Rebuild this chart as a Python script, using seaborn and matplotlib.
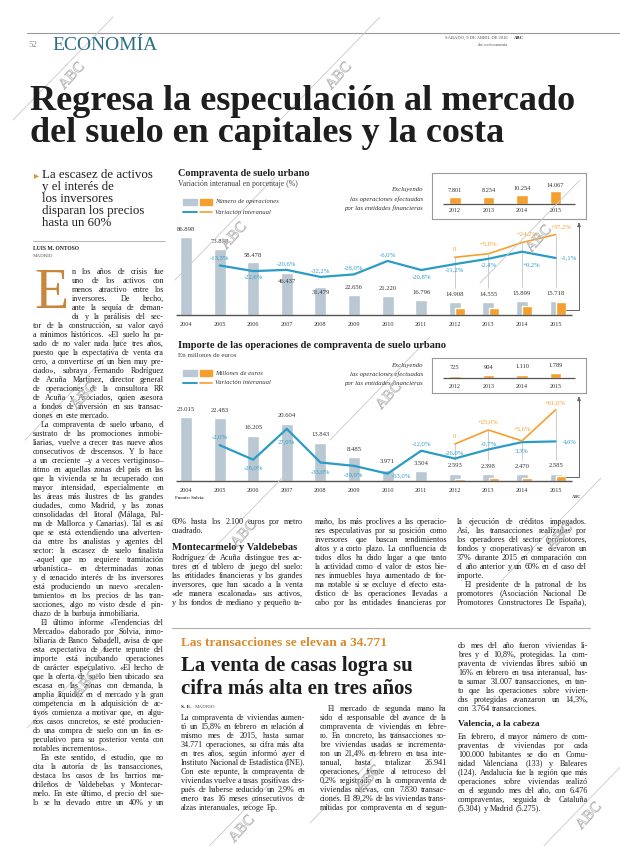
import matplotlib
matplotlib.use("Agg")
import matplotlib.pyplot as plt
import matplotlib.patheffects as pe
import seaborn as sns
import numpy as np
from matplotlib.lines import Line2D
from matplotlib.patches import Rectangle, FancyArrowPatch

# Datos
years = ['2004', '2005', '2006', '2007', '2008', '2009', '2010', '2011', '2012', '2013', '2014', '2015']
excl_years = ['2012', '2013', '2014', '2015']

ops = [86898, 73858, 58478, 46437, 31479, 22656, 21220, 16796, 14908, 14555, 15899, 15718]
ops_var = [np.nan, -13.3, -22.6, -20.6, -32.2, -28.0, -6.0, -20.8, -11.2, -2.4, 9.2, -1.1]
ops_excl = [7801, 8254, 10254, 14067]
ops_excl_var = [0, 5.8, 24.2, 37.2]

imp = [23015, 22483, 16205, 20604, 13843, 8485, 3971, 3504, 2593, 2398, 2470, 2585]
imp_var = [np.nan, -2.0, -28.0, 27.0, -33.0, -39.0, -53.0, -12.0, -26.0, -9.7, 3.3, 4.6]
imp_excl = [725, 904, 1110, 1789]
imp_excl_var = [0, 25.0, 5.6, 61.0]

GRIS = '#b9c8d3'
NARANJA = '#f5a02e'
AZUL = '#2a9cc6'
TXT = '#1f1f1f'
TEAL = '#2b6e87'

sns.set_theme(style='white')
plt.rcParams['font.family'] = ['Liberation Serif', 'DejaVu Serif']

W, H = 620, 846
fig = plt.figure(figsize=(W / 100, H / 100), dpi=100)
fig.patch.set_facecolor('white')
R = fig.canvas.get_renderer()


def T(x, y, s, size=7, color=TXT, ha='left', va='center', **kw):
    return fig.text(x / W, 1 - y / H, s, fontsize=size * 0.72, color=color, ha=ha, va=va, **kw)


def fit(x, y, s, width, size=10, **kw):
    t = T(x, y, s, size, **kw)
    w = t.get_window_extent(R).width
    t.set_fontsize(size * 0.72 * width / w)
    return t


def line(xs, ys, color='#999999', lw=0.7):
    fig.add_artist(Line2D([x / W for x in xs], [1 - y / H for y in ys], transform=fig.transFigure, color=color, lw=lw))


def hline(x0, x1, y, color='#999999', lw=0.7):
    line([x0, x1], [y, y], color, lw)


def rect(x0, y0, x1, y1, color):
    fig.add_artist(Rectangle((x0 / W, 1 - y1 / H), (x1 - x0) / W, (y1 - y0) / H, transform=fig.transFigure, color=color))


def axbox(x0, y0, x1, y1):
    return fig.add_axes([x0 / W, 1 - y1 / H, (x1 - x0) / W, (y1 - y0) / H])


def column(x0, x1, y0, lines, step=9.0, size=8.2, indent=8, **kw):
    # texto justificado, palabra por palabra
    for i, ln in enumerate(lines):
        if not ln:
            continue
        y = y0 + i * step + 2.6
        last = ln.endswith('|')
        ln = ln.rstrip('|')
        xa = x0 + (indent if ln.startswith('>') else 0)
        ln = ln.lstrip('>')
        words = ln.split()
        objs = [T(xa, y, w, size, va='baseline', **kw) for w in words]
        ws = [o.get_window_extent(R).width for o in objs]
        avail = x1 - xa
        if last or len(words) == 1:
            gap = size * 0.25
        else:
            gap = (avail - sum(ws)) / (len(words) - 1)
            if gap < 1.4:
                f = (avail - 1.4 * (len(words) - 1)) / sum(ws)
                for o in objs:
                    o.set_fontsize(size * 0.72 * f)
                ws = [w * f for w in ws]
                gap = 1.4
        x = xa
        for o, w in zip(objs, ws):
            o.set_x(x / W)
            x += w + gap


# Cabecera
hline(27, 620, 33, '#9a9a9a', 0.8)
T(28, 45, '52', 9, color='#8a8a8a')
fit(52, 46, 'ECONOMÍA', 105, 22, color=TEAL)
T(508, 38, 'SÁBADO, 9 DE ABRIL DE 2016', 4.6, color='#555555', ha='right')
T(514, 38, 'ABC', 4.8, color='#333333', weight='bold')
T(508, 45, 'abc.es/economia', 4.6, color='#555555', ha='right')

t1 = fit(30, 102, 'Regresa la especulación al mercado', 546, 36, weight='bold', color='#1e1e1e')
T(30, 134, 'del suelo en capitales y la costa', t1.get_fontsize() / 0.72, weight='bold', color='#1e1e1e')

# Columna izquierda
STEP = 9.0
LY0 = 271
T(34, 175, '▸', 10, color='#e0922f', family='DejaVu Sans')
d = fit(42, 175, 'La escasez de activos', 111, 13)
for k, s in enumerate(['y el interés de', 'los inversores', 'disparan los precios', 'hasta un 60%']):
    T(42, 187 + 12 * k, s, d.get_fontsize() / 0.72)
hline(33, 165, 241, '#aaaaaa', 0.6)
T(33, 248, 'LUIS M. ONTOSO', 5.6, weight='bold')
T(33, 256, 'MADRID', 5.0, color='#555555')
cap = 56
T(34, LY0 + 6 * STEP - 5 - 0.216 * cap, 'E', cap, color='#c8873d', va='baseline')

left_top = [
    "n los años de crisis fue",
    "uno de los activos con",
    "menos atractivo entre los",
    "inversores. De hecho,",
    "ante la sequía de deman-",
    "da y la parálisis del sec-",
]
left_rest = [
    "tor de la construcción, su valor cayó",
    "a mínimos históricos. «El suelo ha pa-",
    "sado de no valer nada hace tres años,",
    "puesto que la expectativa de venta era",
    "cero, a convertirse en un bien muy pre-",
    "ciado», subraya Fernando Rodríguez",
    "de Acuña Martínez, director general",
    "de operaciones de la consultora RR",
    "de Acuña y Asociados, quien asesora",
    "a fondos de inversión en sus transac-",
    "ciones en este mercado.|",
    ">La compraventa de suelo urbano, el",
    "sustrato de las promociones inmobi-",
    "liarias, vuelve a crecer tras nueve años",
    "consecutivos de descensos. Y lo hace",
    "a un creciente –y a veces vertiginoso–",
    "ritmo en aquellas zonas del país en las",
    "que la vivienda se ha recuperado con",
    "mayor intensidad, especialmente en",
    "las áreas más ilustres de las grandes",
    "ciudades, como Madrid, y las zonas",
    "consolidadas del litoral (Málaga, Pal-",
    "ma de Mallorca y Canarias). Tal es así",
    "que se está extendiendo una adverten-",
    "cia entre los analistas y agentes del",
    "sector: la escasez de suelo finalista",
    "–aquel que no requiere tramitación",
    "urbanística– en determinadas zonas",
    "y el renacido interés de los inversores",
    "está produciendo un nuevo «recalen-",
    "tamiento» en los precios de las tran-",
    "sacciones, algo no visto desde el pin-",
    "chazo de la burbuja inmobiliaria.|",
    ">El último informe «Tendencias del",
    "Mercado» elaborado por Solvia, inmo-",
    "biliaria de Banco Sabadell, avisa de que",
    "esta expectativa de fuerte repunte del",
    "importe está incubando operaciones",
    "de carácter especulativo. «El hecho de",
    "que la oferta de suelo bien ubicado sea",
    "escasa en las zonas con demanda, la",
    "amplia liquidez en el mercado y la gran",
    "competencia en la adquisición de ac-",
    "tivos comienza a motivar que, en algu-",
    "nos casos concretos, se esté producien-",
    "do una compra de suelo con un fin es-",
    "peculativo para su posterior venta con",
    "notables incrementos».|",
    ">En este sentido, el estudio, que no",
    "cita la autoría de las transacciones,",
    "destaca los casos de los barrios ma-",
    "drileños de Valdebebas y Montecar-",
    "melo. En este último, el precio del sue-",
    "lo se ha elevado entre un 40% y un",
]
column(72, 164, LY0, left_top, STEP)
column(33, 164, LY0 + 6 * STEP, left_rest, STEP)


# Graficos
X0, DX = 186, 33.6


def cat(px):
    return (px - X0) / DX


def miles(v):
    return f'{v:,}'.replace(',', '.')


def pct(v, plus):
    if v == 0:
        return '0'
    s = f'{v:+.1f}%' if plus else f'{v:.1f}%'
    return s.replace('.', ',')


def grafico(top, base, k, zero, kp, vals, var, excl, excl_var, off_val, off_var, off_exc, plus):
    ax = axbox(169, top, 578, base)
    sns.barplot(x=years, y=vals, color=GRIS, saturation=1, width=0.36, errorbar=None, ax=ax, zorder=2)
    ax.bar(np.arange(8, 12) + 0.16, excl, width=0.3, color=NARANJA, zorder=3)
    ymax = (base - top) / k
    ax.set_ylim(0, ymax)
    ax.axis('off')
    ax.hlines(0, cat(176), cat(572), color='#555555', lw=1.0, zorder=5, clip_on=False)
    for i, yr in enumerate(years):
        ax.annotate(yr, (i, 0), xytext=(0, -9 * 0.72), textcoords='offset points',
                    ha='center', va='center', fontsize=6.2 * 0.72, color='#333333')
    for i, v in enumerate(vals):
        ax.annotate(miles(v), (i, v), xytext=(0, -off_val[i] * 0.72), textcoords='offset points',
                    ha='center', va='center', fontsize=6.6 * 0.72, color='#333333', zorder=6)

    ax2 = ax.twinx()
    lo, hi = -(base - zero) / kp, (zero - top) / kp
    pos = np.arange(1, 12)
    # lineas de referencia
    for j in range(4):
        i = 8 + j
        ybot = (zero - (base - vals[i] * k - 14)) / kp
        ax2.vlines(i, ybot, excl_var[j], color='#c4c4c4', lw=0.6, zorder=1)
    sns.lineplot(x=pos, y=var[1:], color=AZUL, lw=1.6, ax=ax2, zorder=4)
    sns.lineplot(x=np.arange(8, 12), y=excl_var, color=NARANJA, lw=1.2, ax=ax2, zorder=4)
    ax2.set_ylim(lo, hi)
    ax2.axis('off')
    for i in pos:
        dx, dy = off_var[i - 1]
        ax2.annotate(pct(var[i], plus), (i, var[i]), xytext=(dx * 0.72, -dy * 0.72), textcoords='offset points',
                     ha='center', va='center', fontsize=6.6 * 0.72, color=AZUL, zorder=6)
    for j, v in enumerate(excl_var):
        dx, dy = off_exc[j]
        ax2.annotate(pct(v, True), (8 + j, v), xytext=(dx * 0.72, -dy * 0.72), textcoords='offset points',
                     ha='center', va='center', fontsize=6.6 * 0.72, color=NARANJA, zorder=6)
    ax.set_xlim(cat(169), cat(578))
    ax2.set_xlim(cat(169), cat(578))


def recuadro(y0, y1, base, k, excl, dv, dy):
    ai = axbox(432, y0, 586, y1)
    sns.barplot(x=excl_years, y=excl, color=NARANJA, saturation=1, width=0.34, errorbar=None, ax=ai)
    ai.set_xlim(cat(432) - 8, cat(586) - 8)
    ai.set_ylim(-(y1 - base) / k, (base - y0) / k)
    ai.hlines(0, cat(443) - 8, cat(575) - 8, color='#555555', lw=0.9)
    ai.set_xticks([])
    ai.set_yticks([])
    ai.set_xlabel('')
    ai.set_ylabel('')
    for sp in ai.spines.values():
        sp.set_color('#9a9a9a')
        sp.set_linewidth(0.8)
    for j, v in enumerate(excl):
        ai.annotate(miles(v), (j, v), xytext=(0, dv * 0.72), textcoords='offset points',
                    ha='center', va='center', fontsize=6.4 * 0.72, color='#333333')
        ai.annotate(excl_years[j], (j, 0), xytext=(0, -dy * 0.72), textcoords='offset points',
                    ha='center', va='center', fontsize=6.0 * 0.72, color='#333333')


def leyenda(y, etiqueta):
    rect(183, y - 3, 197, y + 3, GRIS)
    rect(200, y - 3, 212, y + 3, NARANJA)
    T(215, y, etiqueta, 6.6, style='italic', color='#333333')
    hline(183, 197, y + 10, AZUL, 1.4)
    hline(200, 212, y + 10, NARANJA, 1.2)
    T(215, y + 10, 'Variación interanual', 6.6, style='italic', color='#333333')


def excluyendo(y):
    for k, s in enumerate(['Excluyendo', 'las operaciones efectuadas', 'por las entidades financieras']):
        T(423, y + 9 * k, s, 6.8, style='italic', ha='right', color='#333333')


def flecha(ybar, ybox):
    line([566, 579, 579], [ybar, ybar, ybox + 6], '#666666', 0.7)
    fig.add_artist(FancyArrowPatch((579 / W, 1 - (ybox + 8) / H), (579 / W, 1 - (ybox + 1) / H),
                                   transform=fig.transFigure, arrowstyle='-|>', mutation_scale=5,
                                   color='#666666', lw=0.7))


# Grafico 1
fit(178, 173, 'Compraventa de suelo urbano', 130, 11, weight='bold')
fit(178, 184, 'Variación interanual en porcentaje (%)', 120, 7, color='#444444')
leyenda(202, 'Número de operaciones')
excluyendo(190)
grafico(225, 315, 0.0009, 257.3, 0.61, ops, ops_var, ops_excl, ops_excl_var,
        [-7, -7, -7, 8, 6, -7, -7, -7, -7, -7, -7, -7],
        [(0, -8), (0, 6), (0, -6), (0, -6), (0, -7), (0, -6), (0, 7), (0, 6), (0, 6), (9, 13), (13, 0)],
        [(0, -8), (0, -10), (5, -9), (5, -8)], True)
recuadro(173, 219, 204, 0.0009, ops_excl, 6, 7)
flecha(310, 219)

# Grafico 2
fit(178, 345, 'Importe de las operaciones de compraventa de suelo urbano', 270, 11, weight='bold')
T(178, 355, 'En millones de euros', 7, color='#444444')
leyenda(373, 'Millones de euros')
excluyendo(365)
grafico(400, 481, 0.00278, 444, 0.56, imp, imp_var, imp_excl, imp_excl_var,
        [-8] * 12,
        [(0, -8), (0, 8), (0, 13), (0, 9), (0, 9), (14, 2), (0, -7), (0, -6), (0, -6), (0, 9), (14, 0)],
        [(0, -8), (0, -8), (0, -12), (0, -7)], False)
recuadro(358, 393, 378, 0.00278, imp_excl, 8, 8)
flecha(477, 393)
T(175, 498, 'Fuente: Solvia', 4.6, color='#444444', weight='bold')
T(572, 497, 'ABC', 4.4, color='#444444', weight='bold')

# Columnas bajo los graficos
col2a = [
    "60% hasta los 2.100 euros por metro",
    "cuadrado.|",
]
col2b = [
    "Rodríguez de Acuña distingue tres ac-",
    "tores en el tablero de juego del suelo:",
    "las entidades financieras y los grandes",
    "inversores, que han sacado a la venta",
    "«de manera escalonada» sus activos,",
    "y los fondos de mediano y pequeño ta-",
]
col3 = [
    "maño, los más proclives a las operacio-",
    "nes especulativas por su posición como",
    "inversores que buscan rendimientos",
    "altos y a corto plazo. La confluencia de",
    "todos ellos ha dado lugar a que tanto",
    "la actividad como el valor de estos bie-",
    "nes inmuebles haya aumentado de for-",
    "ma notable si se excluye el efecto esta-",
    "dístico de las operaciones llevadas a",
    "cabo por las entidades financieras por",
]
col4 = [
    "la ejecución de créditos impagados.",
    "Así, las transacciones realizadas por",
    "los operadores del sector (promotores,",
    "fondos y cooperativas) se elevaron un",
    "37% durante 2015 en comparación con",
    "el año anterior y un 60% en el caso del",
    "importe.|",
    ">El presidente de la patronal de los",
    "promotores (Asociación Nacional De",
    "Promotores Constructores De España),",
]
Y0 = 521
column(172, 303, Y0, col2a, STEP)
fit(172, Y0 + 2.9 * STEP, 'Montecarmelo y Valdebebas', 125, 11, weight='bold')
column(172, 303, Y0 + 4 * STEP, col2b, STEP)
column(315, 447, Y0, col3, STEP)
column(457, 587, Y0, col4, STEP)

# Segunda noticia
hline(172, 590, 628, '#b0b0b0', 0.8)
fit(181, 643, 'Las transacciones se elevan a 34.771', 205, 12, weight='bold', color='#d98b2e')
h2 = fit(181, 689, 'cifra más alta en tres años', 231, 24, weight='bold', color='#1e1e1e')
T(181, 666, 'La venta de casas logra su', h2.get_fontsize() / 0.72, weight='bold', color='#1e1e1e')
T(181, 707, 'S. E.', 5.4, weight='bold')
T(195, 707, 'MADRID', 5.0, color='#555555')

colA = [
    "La compraventa de viviendas aumen-",
    "tó un 15,8% en febrero en relación al",
    "mismo mes de 2015, hasta sumar",
    "34.771 operaciones, su cifra más alta",
    "en tres años, según informó ayer el",
    "Instituto Nacional de Estadística (INE).",
    "Con este repunte, la compraventa de",
    "viviendas vuelve a tasas positivas des-",
    "pués de haberse reducido un 2,9% en",
    "enero tras 16 meses consecutivos de",
    "alzas interanuales, recoge Ep.|",
]
colB = [
    ">El mercado de segunda mano ha",
    "sido el responsable del avance de la",
    "compraventa de viviendas en febre-",
    "ro. En concreto, las transacciones so-",
    "bre viviendas usadas se incrementa-",
    "ron un 21,4% en febrero en tasa inte-",
    "ranual, hasta totalizar 26.941",
    "operaciones, frente al retroceso del",
    "0,2% registrado en la compraventa de",
    "viviendas nuevas, con 7.830 transac-",
    "ciones. El 89,2% de las viviendas trans-",
    "mitidas por compraventa en el segun-",
]
colC1 = [
    "do mes del año fueron viviendas li-",
    "bres y el 10,8%, protegidas. La com-",
    "praventa de viviendas libres subió un",
    "16% en febrero en tasa interanual, has-",
    "ta sumar 31.007 transacciones, en tan-",
    "to que las operaciones sobre vivien-",
    "das protegidas avanzaron un 14,3%,",
    "con 3.764 transacciones.|",
]
colC2 = [
    "En febrero, el mayor número de com-",
    "praventas de viviendas por cada",
    "100.000 habitantes se dio en Comu-",
    "nidad Valenciana (133) y Baleares",
    "(124). Andalucía fue la región que más",
    "operaciones sobre viviendas realizó",
    "en el segundo mes del año, con 6.476",
    "compraventas, seguida de Cataluña",
    "(5.304) y Madrid (5.275).|",
]
column(181, 305, 717, colA, STEP)
column(320, 447, 708, colB, STEP)
column(458, 588, 645, colC1, STEP)
fit(458, 723, 'Valencia, a la cabeza', 82, 11, weight='bold')
column(458, 588, 736, colC2, STEP)

# Marcas de agua del escaneo
marcas = [(68, 72), (335, 72), (230, 232), (535, 235), (385, 392), (80, 392),
          (240, 530), (556, 533), (82, 680), (365, 775), (238, 825), (585, 812)]
for mx, my in marcas:
    line([mx - 55, mx + 45], [my + 48, my - 55], '#c9c9c9', 0.6)
    T(mx + 4, my + 4, 'ABC', 15, color=(1, 1, 1, 0), ha='center', rotation=48,
      path_effects=[pe.Stroke(linewidth=0.6, foreground='#bdbdbd')])

fig.savefig('out.png', dpi=100, facecolor='white')
